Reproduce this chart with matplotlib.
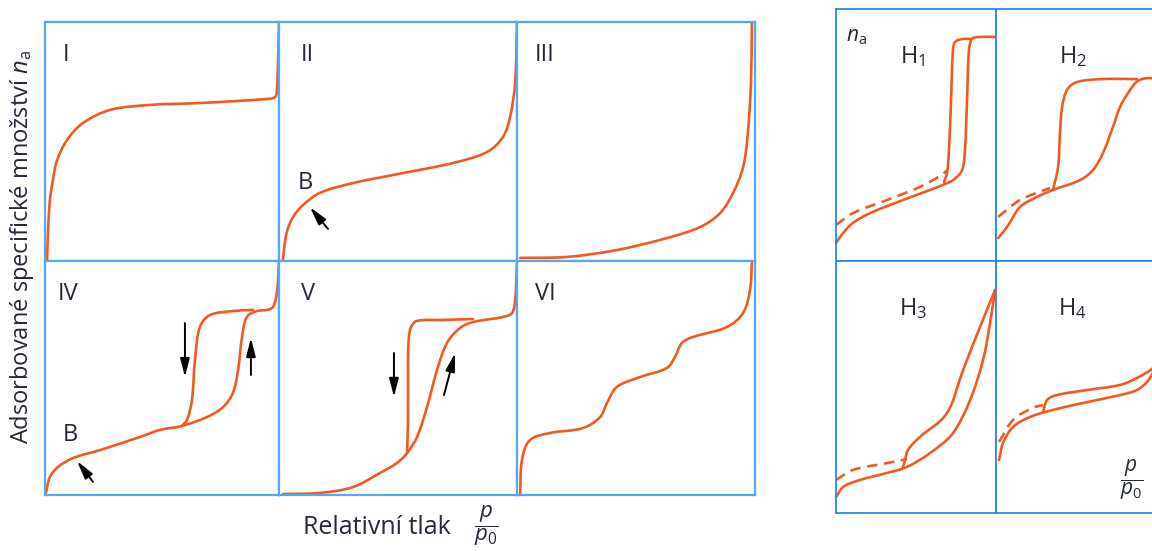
import numpy as np
import matplotlib
matplotlib.use("Agg")
import matplotlib.pyplot as plt
from matplotlib.path import Path
from matplotlib.patches import PathPatch

plt.rcParams["font.family"] = ["Open Sans", "DejaVu Sans"]
plt.rcParams["mathtext.fontset"] = "custom"
plt.rcParams["mathtext.rm"] = "Open Sans"
plt.rcParams["mathtext.it"] = "Open Sans:italic"

ORANGE = "#f15a22"
BLUE_L = "#55a9f0"
BLUE_R = "#2a8ae2"
INK = "#262a38"

# curves as (p/p0, n_a) pairs, each panel scaled to 0..1
type_I = np.array([
    (0.009, 0.004), (0.013, 0.13), (0.021, 0.255), (0.034, 0.34), (0.051, 0.42),
    (0.094, 0.506), (0.162, 0.577), (0.278, 0.632), (0.449, 0.653), (0.662, 0.661),
    (0.949, 0.678), (0.983, 0.686), (0.991, 0.715), (0.996, 0.84), (1.0, 0.996)])
type_II = np.array([
    (0.016, 0.004), (0.032, 0.117), (0.059, 0.184), (0.101, 0.234), (0.172, 0.285),
    (0.311, 0.326), (0.521, 0.368), (0.731, 0.41), (0.874, 0.456), (0.941, 0.519),
    (0.971, 0.603), (0.992, 0.745), (1.0, 0.996)])
type_III = np.array([
    (0.013, 0.013), (0.21, 0.017), (0.42, 0.046), (0.63, 0.096), (0.769, 0.142),
    (0.853, 0.2), (0.908, 0.285), (0.95, 0.393), (0.97, 0.536), (0.983, 0.745),
    (0.987, 0.996)])
type_IV_ads = np.array([
    (0.004, 0.009), (0.021, 0.077), (0.056, 0.12), (0.12, 0.158), (0.235, 0.192),
    (0.406, 0.248), (0.491, 0.278), (0.585, 0.295), (0.692, 0.333), (0.761, 0.376),
    (0.803, 0.436), (0.825, 0.534), (0.842, 0.675), (0.863, 0.761), (0.906, 0.786),
    (0.949, 0.791), (0.974, 0.803), (0.991, 0.863), (1.0, 0.991)])
type_IV_des = np.array([
    (0.585, 0.295), (0.607, 0.321), (0.628, 0.406), (0.641, 0.577), (0.662, 0.718),
    (0.705, 0.769), (0.803, 0.786), (0.889, 0.791)])
type_V_ads = np.array([
    (0.017, 0.004), (0.172, 0.009), (0.311, 0.034), (0.424, 0.094), (0.496, 0.137),
    (0.538, 0.179), (0.58, 0.248), (0.622, 0.376), (0.664, 0.534), (0.706, 0.65),
    (0.761, 0.714), (0.815, 0.739), (0.941, 0.761), (0.979, 0.778), (0.992, 0.833),
    (1.0, 0.991)])
type_V_des = np.array([
    (0.538, 0.179), (0.542, 0.321), (0.542, 0.577), (0.546, 0.675), (0.555, 0.718),
    (0.58, 0.744), (0.689, 0.748), (0.815, 0.752)])
type_VI = np.array([
    (0.013, 0.0), (0.021, 0.15), (0.055, 0.235), (0.139, 0.265), (0.277, 0.286),
    (0.349, 0.333), (0.378, 0.393), (0.42, 0.462), (0.517, 0.504), (0.63, 0.543),
    (0.664, 0.59), (0.693, 0.65), (0.739, 0.675), (0.882, 0.718), (0.95, 0.778),
    (0.979, 0.876), (0.987, 0.991)])

H1_ads = np.array([
    (0.0, 0.071), (0.044, 0.111), (0.106, 0.151), (0.213, 0.19), (0.419, 0.242),
    (0.588, 0.282), (0.669, 0.302), (0.731, 0.321), (0.788, 0.361), (0.806, 0.44),
    (0.819, 0.639), (0.831, 0.837), (0.85, 0.881), (0.9, 0.889), (0.994, 0.889)])
H1_des = np.array([
    (0.675, 0.313), (0.694, 0.349), (0.706, 0.44), (0.719, 0.639), (0.731, 0.837),
    (0.744, 0.869), (0.794, 0.881), (0.85, 0.881)])
H1_dash = np.array([
    (0.0, 0.143), (0.106, 0.19), (0.319, 0.242), (0.525, 0.294), (0.669, 0.345),
    (0.694, 0.361)])
H2_ads = np.array([
    (0.013, 0.091), (0.069, 0.135), (0.15, 0.214), (0.256, 0.254), (0.356, 0.282),
    (0.525, 0.321), (0.606, 0.361), (0.669, 0.429), (0.731, 0.532), (0.775, 0.611),
    (0.838, 0.679), (0.881, 0.712), (0.925, 0.724), (0.981, 0.726), (1.0, 0.726)])
H2_des = np.array([
    (0.356, 0.282), (0.388, 0.373), (0.4, 0.508), (0.413, 0.611), (0.444, 0.679),
    (0.506, 0.71), (0.669, 0.722), (0.881, 0.722)])
H2_dash = np.array([(0.013, 0.175), (0.15, 0.242), (0.338, 0.29)])
H3_ads = np.array([
    (0.0, 0.063), (0.044, 0.103), (0.15, 0.131), (0.319, 0.159), (0.444, 0.183),
    (0.588, 0.238), (0.731, 0.317), (0.838, 0.448), (0.919, 0.607), (0.963, 0.754),
    (0.994, 0.885)])
H3_des = np.array([
    (0.419, 0.183), (0.431, 0.21), (0.45, 0.25), (0.525, 0.302), (0.694, 0.397),
    (0.794, 0.567), (0.9, 0.738), (0.994, 0.885)])
H3_dash = np.array([(0.0, 0.131), (0.106, 0.171), (0.319, 0.198), (0.444, 0.214)])
H4_ads = np.array([
    (0.019, 0.21), (0.044, 0.278), (0.106, 0.341), (0.213, 0.381), (0.356, 0.409),
    (0.569, 0.44), (0.775, 0.468), (0.881, 0.488), (0.944, 0.52), (0.981, 0.556),
    (1.0, 0.58)])
H4_des = np.array([
    (0.294, 0.401), (0.319, 0.448), (0.381, 0.468), (0.569, 0.488), (0.775, 0.508),
    (0.881, 0.536), (0.981, 0.575), (1.0, 0.6)])
H4_dash = np.array([(0.019, 0.282), (0.106, 0.369), (0.231, 0.417), (0.294, 0.429)])

W, H = 1152, 551
fig = plt.figure(figsize=(W / 100, H / 100), dpi=100)


def panel(x0, y0, x1, y1, color, lw):
    ax = fig.add_axes([x0 / W, 1 - y1 / H, (x1 - x0) / W, (y1 - y0) / H])
    ax.set_xlim(0, 1)
    ax.set_ylim(0, 1)
    ax.set_xticks([])
    ax.set_yticks([])
    for s in ax.spines.values():
        s.set_color(color)
        s.set_linewidth(lw)
    return ax


def smooth_path(pts):
    # bezier path through the read points, handles kept inside each segment
    P = np.vstack([pts[0], pts, pts[-1]])
    verts = [pts[0]]
    codes = [Path.MOVETO]
    for i in range(1, len(P) - 2):
        p0, p1, p2, p3 = P[i - 1], P[i], P[i + 1], P[i + 2]
        seg = np.hypot(*(p2 - p1))
        d1 = p2 - p0
        d2 = p3 - p1
        d1 = d1 / (np.hypot(*d1) or 1)
        d2 = d2 / (np.hypot(*d2) or 1)
        verts += [p1 + d1 * seg / 3, p2 - d2 * seg / 3, p2]
        codes += [Path.CURVE4] * 3
    return Path(verts, codes)


def curve(ax, pts, ls="-"):
    patch = PathPatch(smooth_path(pts), fill=False, edgecolor=ORANGE, lw=1.9,
                      capstyle="round", joinstyle="round", clip_on=False)
    if ls == "--":
        patch.set_linestyle((0, (4, 2.5)))
        patch.set_capstyle("butt")
    ax.add_patch(patch)


def arrow(ax, tail, head):
    ax.annotate("", xy=head, xytext=tail,
                arrowprops=dict(arrowstyle="-|>,head_length=1.1,head_width=0.28",
                                color="black", lw=1.4, shrinkA=0, shrinkB=0))


# left grid, types I-VI
cols = [(45, 279), (279, 517), (517, 755)]
rows = [(22, 261), (261, 495)]
names = [["I", "II", "III"], ["IV", "V", "VI"]]
curves = [[[type_I], [type_II], [type_III]],
          [[type_IV_ads, type_IV_des], [type_V_ads, type_V_des], [type_VI]]]
label_x = [[0.09, 0.118, 0.118], [0.098, 0.122, 0.118]]
axes = {}
for r, (y0, y1) in enumerate(rows):
    for c, (x0, x1) in enumerate(cols):
        ax = panel(x0, y0, x1, y1, BLUE_L, 1.6)
        for pts in curves[r][c]:
            curve(ax, pts)
        ax.text(label_x[r][c], 0.86, names[r][c], ha="center", va="center",
                fontsize=17, color=INK)
        axes[names[r][c]] = ax

axes["II"].text(0.11, 0.325, "B", ha="center", va="center", fontsize=17, color=INK)
arrow(axes["II"], (0.206, 0.134), (0.13, 0.225))
axes["IV"].text(0.107, 0.256, "B", ha="center", va="center", fontsize=17, color=INK)
arrow(axes["IV"], (0.205, 0.056), (0.137, 0.145))
arrow(axes["IV"], (0.598, 0.735), (0.598, 0.504))
arrow(axes["IV"], (0.88, 0.513), (0.88, 0.671))
arrow(axes["V"], (0.483, 0.607), (0.483, 0.419))
arrow(axes["V"], (0.693, 0.427), (0.74, 0.607))

# right box, hysteresis loops H1-H4
rcols = [(836, 996), (996, 1156)]
rrows = [(9, 261), (261, 513)]
hcurves = [[[H1_ads, H1_des], [H2_ads, H2_des]], [[H3_ads, H3_des], [H4_ads, H4_des]]]
hdash = [[H1_dash, H2_dash], [H3_dash, H4_dash]]
hnames = [[r"$\mathrm{H}_1$", r"$\mathrm{H}_2$"], [r"$\mathrm{H}_3$", r"$\mathrm{H}_4$"]]
raxes = {}
for r, (y0, y1) in enumerate(rrows):
    for c, (x0, x1) in enumerate(rcols):
        ax = panel(x0, y0, x1, y1, BLUE_R, 1.3)
        for pts in hcurves[r][c]:
            curve(ax, pts)
        curve(ax, hdash[r][c], ls="--")
        ax.text(0.48, 0.81, hnames[r][c], ha="center", va="center",
                fontsize=17, color=INK)
        raxes[(r, c)] = ax

raxes[(0, 0)].text(0.125, 0.89, r"$n_\mathrm{a}$", ha="center", va="center",
                   fontsize=15, color=INK)
raxes[(1, 1)].text(0.85, 0.13, r"$\dfrac{p}{p_0}$", ha="center", va="center",
                   fontsize=15, color=INK)

fig.text(22 / W, 1 - 247 / H, r"Adsorbované specifické množství $n_\mathrm{a}$",
         rotation=90, ha="center", va="center", fontsize=17, color=INK)
fig.text(377 / W, 1 - 527 / H, "Relativní tlak", ha="center", va="center",
         fontsize=18, color=INK)
fig.text(486 / W, 1 - 526 / H, r"$\dfrac{p}{p_0}$", ha="center", va="center",
         fontsize=16, color=INK)

fig.savefig("out.png", dpi=100)
